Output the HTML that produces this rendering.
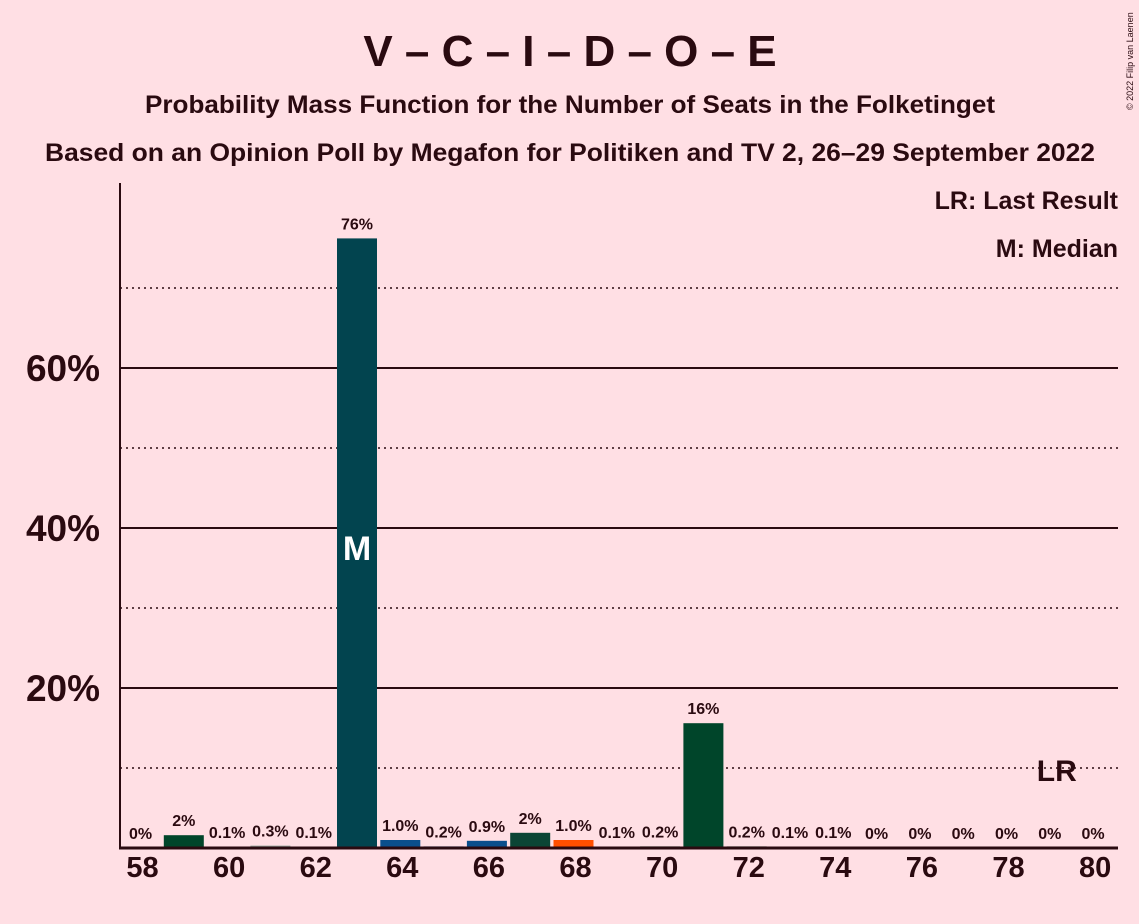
<!DOCTYPE html>
<html><head><meta charset="utf-8"><style>
body{margin:0;background:#ffdfe4;}
svg{display:block;font-family:"Liberation Sans",sans-serif;}
</style></head><body>
<svg id="c" width="1139" height="924">
<rect width="1139" height="924" fill="#ffdfe4"/>
<text x="570" y="66" text-anchor="middle" font-size="44" font-weight="bold" fill="#2a0a10">V – C – I – D – O – E</text>
<text x="570" y="113" text-anchor="middle" font-size="25" font-weight="bold" fill="#2a0a10" textLength="850" lengthAdjust="spacingAndGlyphs">Probability Mass Function for the Number of Seats in the Folketinget</text>
<text x="570" y="161" text-anchor="middle" font-size="25" font-weight="bold" fill="#2a0a10" textLength="1050" lengthAdjust="spacingAndGlyphs">Based on an Opinion Poll by Megafon for Politiken and TV 2, 26–29 September 2022</text>
<text x="1133" y="110" font-size="9" fill="#2a0a10" transform="rotate(-90 1133 110)">© 2022 Filip van Laenen</text>
<text x="1118" y="209" text-anchor="end" font-size="25" font-weight="bold" fill="#2a0a10">LR: Last Result</text>
<text x="1118" y="257" text-anchor="end" font-size="25" font-weight="bold" fill="#2a0a10">M: Median</text>
<g id="grid"></g><g id="bars"></g><g id="labels"></g><g id="axes"></g>
</svg>
<script>
const seats=[58,59,60,61,62,63,64,65,66,67,68,69,70,71,72,73,74,75,76,77,78,79,80];
const probs=[0,1.6,0.1,0.3,0.1,76.2,1.0,0.2,0.9,1.9,1.0,0.1,0.2,15.6,0.2,0.1,0.1,0,0,0,0,0,0];
const printed=["0%","2%","0.1%","0.3%","0.1%","76%","1.0%","0.2%","0.9%","2%","1.0%","0.1%","0.2%","16%","0.2%","0.1%","0.1%","0%","0%","0%","0%","0%","0%"];
const colors=["#00452a","#00452a","#00452a","#9aa8a0","#02444f","#02444f","#0a4f8c","#0a4f8c","#0a4f8c","#0b4535","#ff4f00","#00452a","#00452a","#00452a","#00452a","#00452a","#00452a","#00452a","#00452a","#00452a","#00452a","#00452a","#00452a"];
const yTicks=[20,40,60];
const yMinor=[10,30,50,70];
const xTicks=[58,60,62,64,66,68,70,72,74,76,78,80];
const medianSeat=63, lastResultSeat=79;
const NS="http://www.w3.org/2000/svg";
const X=s=>357+(s-63)*43.3;
const Y=v=>848-v*8;
function mk(t,a,p){const e=document.createElementNS(NS,t);for(const k in a)e.setAttribute(k,a[k]);document.getElementById(p).appendChild(e);return e;}
yMinor.forEach(v=>{const l=mk('line',{x1:120,x2:1118,y1:Y(v),y2:Y(v),stroke:'#2a0a10','stroke-width':1.5,'stroke-dasharray':'2,4'},'grid');

});
yTicks.forEach(v=>{const l=mk('line',{x1:120,x2:1118,y1:Y(v),y2:Y(v),stroke:'#2a0a10','stroke-width':2},'grid');


const t=mk('text',{x:100,y:Y(v)+13,'text-anchor':'end','font-size':37,'font-weight':'bold',fill:'#2a0a10'},'axes');t.textContent=v+'%';

});
seats.forEach((s,i)=>{
 const h=probs[i]*8;
 if(h>0){const r=mk('rect',{x:X(s)-20,y:Y(probs[i]),width:40,height:h,fill:colors[i]},'bars');
 
 }
 const t=mk('text',{x:X(s),y:Y(probs[i])-9,'text-anchor':'middle','font-size':16,'font-weight':'bold',fill:'#2a0a10'},'labels');t.textContent=printed[i];
 
 
 if(s===medianSeat){const m=mk('text',{x:X(s),y:560,'text-anchor':'middle','font-size':34,'font-weight':'bold',fill:'#ffffff'},'labels');m.textContent='M';
 
 }
 if(s===lastResultSeat){const m=mk('text',{x:X(s)+7,y:781,'text-anchor':'middle','font-size':30,'font-weight':'bold',fill:'#2a0a10'},'labels');m.textContent='LR';
 
 }
});
xTicks.forEach(s=>{const t=mk('text',{x:X(s)+2,y:877,'text-anchor':'middle','font-size':29,'font-weight':'bold',fill:'#2a0a10'},'axes');t.textContent=s;

});
const ya=mk('line',{x1:120,x2:120,y1:183,y2:849,stroke:'#2a0a10','stroke-width':2},'axes');


const xa=mk('line',{x1:119,x2:1118,y1:848,y2:848,stroke:'#2a0a10','stroke-width':3},'axes');


</script>
</body></html>
